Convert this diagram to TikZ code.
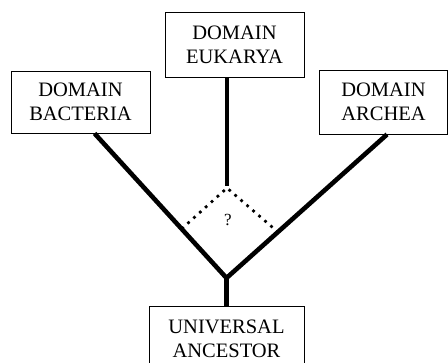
\documentclass[tikz,border=0pt]{standalone}
\usepackage{fontspec}
\setmainfont{Liberation Serif}
\usetikzlibrary{calc}

\begin{document}
\begin{tikzpicture}[
  x=1pt, y=-1pt,
  domainbox/.style={draw=black, fill=white, line width=0.9pt,
                 inner sep=0pt, align=center,
                 font=\fontsize{20.5}{24}\selectfont},
  branch/.style={line width=4.6pt, draw=black},
  maybe/.style={line width=2.7pt, draw=black,
                dash pattern=on 2.7pt off 5.2pt},
  qmark/.style={font=\fontsize{17}{19}\selectfont, inner sep=0pt},
]
\useasboundingbox (0,0) rectangle (448,363);

\node[domainbox, minimum width=139pt, minimum height=62pt] (bac) at (80.5,102)
  {DOMAIN\\ BACTERIA};
\node[domainbox, minimum width=139pt, minimum height=65pt] (euk) at (234.5,44.5)
  {DOMAIN\\ EUKARYA};
\node[domainbox, minimum width=128pt, minimum height=64pt] (arc) at (383.5,102)
  {DOMAIN\\ ARCHEA};
\node[domainbox, minimum width=155pt, minimum height=66pt] (anc) at (226.5,339)
  {UNIVERSAL\\ ANCESTOR};

\coordinate (j) at (226.5,278);
\coordinate (top) at (227,186);
\coordinate (bfoot) at ([xshift=84pt]bac.south west);
\coordinate (afoot) at ([xshift=68pt]arc.south west);

\draw[branch] (bfoot) -- (j) -- (afoot);
\draw[branch] (euk.south -| top) -- (top);
\draw[branch] (j) -- (anc.north -| j);

% the unresolved branching point
\draw[maybe] ($(bfoot)!0.66!(j)$) -- ([yshift=-2pt]top) -- ($(afoot)!0.68!(j)$);
\node[qmark] (q) at (228,220) {?};
\end{tikzpicture}
\end{document}
